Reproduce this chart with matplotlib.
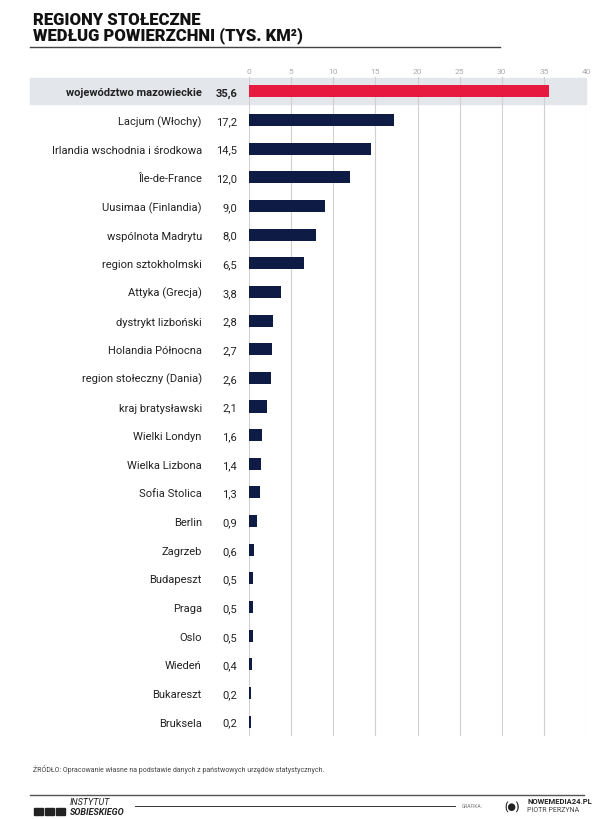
import matplotlib
matplotlib.use("Agg")
import matplotlib.pyplot as plt
from matplotlib.patches import Rectangle

plt.rcParams["font.family"] = ["Roboto", "DejaVu Sans"]

regions = ["województwo mazowieckie", "Lacjum (Włochy)", "Irlandia wschodnia i środkowa",
           "Île-de-France", "Uusimaa (Finlandia)", "wspólnota Madrytu", "region sztokholmski",
           "Attyka (Grecja)", "dystrykt lizboński", "Holandia Północna", "region stołeczny (Dania)",
           "kraj bratysławski", "Wielki Londyn", "Wielka Lizbona", "Sofia Stolica", "Berlin",
           "Zagrzeb", "Budapeszt", "Praga", "Oslo", "Wiedeń", "Bukareszt", "Bruksela"]
area = [35.6, 17.2, 14.5, 12.0, 9.0, 8.0, 6.5, 3.8, 2.8, 2.7, 2.6, 2.1, 1.6, 1.4, 1.3,
        0.9, 0.6, 0.5, 0.5, 0.5, 0.4, 0.2, 0.2]
ticks = [0, 5, 10, 15, 20, 25, 30, 35, 40]

W, H = 613, 820
fig = plt.figure(figsize=(W / 100, H / 100), dpi=100)
fig.patch.set_facecolor("white")

def fx(px): return px / W
def fy(py): return 1 - py / H

NAVY = "#0d1b45"
RED = "#e8193f"

# title
fig.text(fx(33), fy(28), "REGIONY STOŁECZNE\nWEDŁUG POWIERZCHNI (TYS. KM²)",
         fontsize=12, fontweight="black", color="#111",
         va="center", ha="left", linespacing=1.0)
fig.add_artist(plt.Line2D([fx(30), fx(500)], [fy(48), fy(48)], color="#444", lw=1))

# highlight band
fig.add_artist(Rectangle((fx(30), fy(105)), fx(556), 26 / H, color="#e3e7eb", zorder=0))

n = len(regions)
top, bot = 78, 737
ax = fig.add_axes([fx(249), fy(bot), fx(586 - 249), (bot - top) / H])
ax.set_facecolor("none")
ys = list(range(n))
colors = [RED] + [NAVY] * (n - 1)
ax.barh(ys, area, height=0.42, color=colors, zorder=3)
ax.set_ylim(n - 0.5, -0.5)
ax.set_xlim(0, 40)
ax.set_xticks(ticks)
ax.xaxis.tick_top()
ax.tick_params(axis="x", length=0, labelsize=6, labelcolor="#aaaaaa", pad=2)
ax.set_yticks([])
ax.grid(axis="x", color="#d0d0d0", lw=0.8, zorder=0)
for s in ax.spines.values():
    s.set_visible(False)

for i, (r, v) in enumerate(zip(regions, area)):
    bold = i == 0
    ax.annotate(r, (0, i), xytext=(-34, -2.9), textcoords="offset points",
                ha="right", va="baseline", fontsize=8,
                fontweight="bold" if bold else "normal", color="#222")
    ax.annotate(f"{v:.1f}".replace(".", ","), (0, i), xytext=(-8.5, -2.9),
                textcoords="offset points", ha="right", va="baseline",
                fontsize=8, fontweight="bold" if bold else "normal", color="#222")

# footer
fig.text(fx(33), fy(770), "ŹRÓDŁO: Opracowanie własne na podstawie danych z państwowych urzędów statystycznych.",
         fontsize=5, color="#444", va="center")
fig.add_artist(plt.Line2D([fx(30), fx(584)], [fy(796), fy(796)], color="#555", lw=1))
fig.add_artist(plt.Line2D([fx(135), fx(455)], [fy(807), fy(807)], color="#333", lw=0.7))
fig.text(fx(70), fy(803), "INSTYTUT", fontsize=6.5, style="italic", color="#222", va="center")
fig.text(fx(70), fy(813), "SOBIESKIEGO", fontsize=6.5, style="italic", fontweight="bold",
         color="#222", va="center")
for k in range(3):
    fig.add_artist(Rectangle((fx(34 + k * 11), fy(816)), 9 / W, 7 / H, color="#222"))
fig.text(fx(462), fy(807), "GRAFIKA:", fontsize=3.5, color="#777", va="center")
fig.text(fx(527), fy(802), "NOWEMEDIA24.PL", fontsize=5.5, fontweight="bold", color="#222", va="center")
fig.text(fx(527), fy(811), "PIOTR PERZYNA", fontsize=5, color="#444", va="center")
fig.text(fx(512), fy(807), "(●)", fontsize=7, fontweight="bold", color="#222", va="center", ha="center")

fig.savefig("out.png", dpi=100)
